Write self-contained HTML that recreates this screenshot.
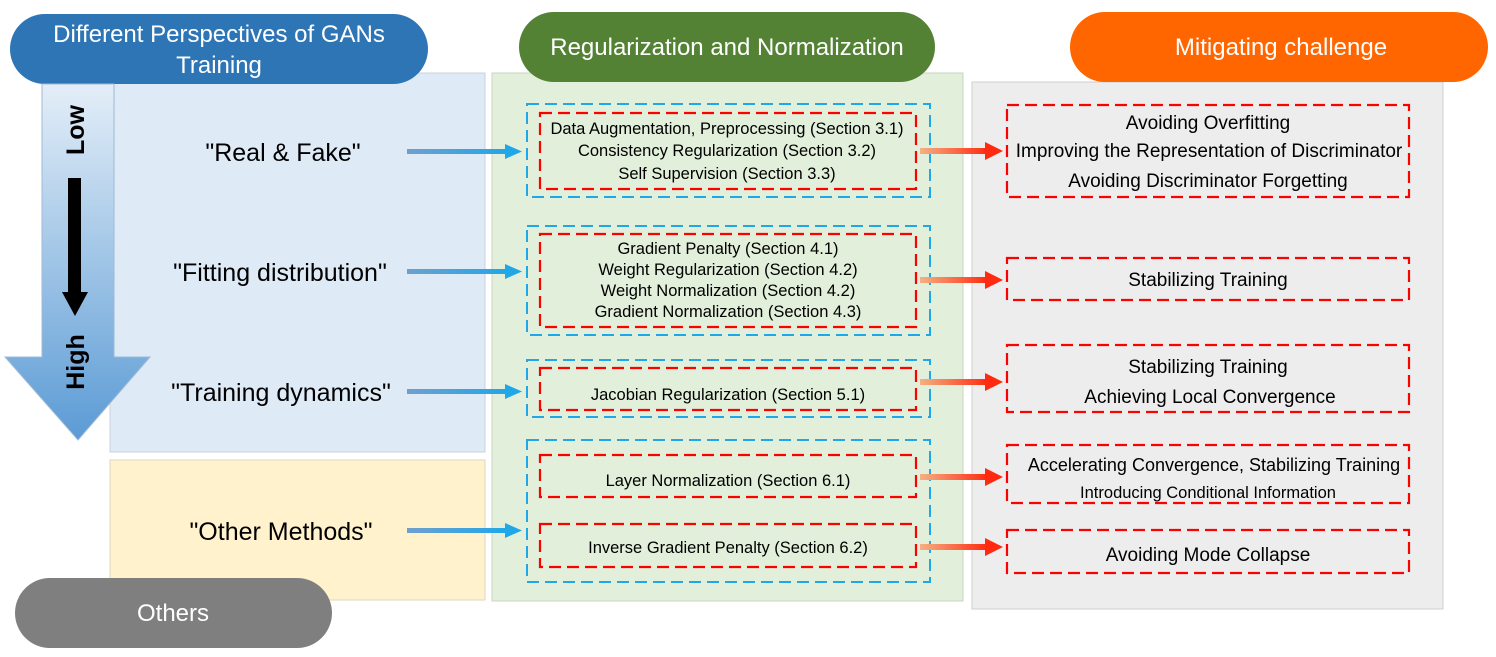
<!DOCTYPE html>
<html><head><meta charset="utf-8"><style>
html,body{margin:0;padding:0;background:#fff;}
svg{display:block;font-family:"Liberation Sans",Arial,sans-serif;}
</style></head><body>
<svg width="1496" height="657" viewBox="0 0 1496 657" xmlns="http://www.w3.org/2000/svg">
<defs>
<linearGradient id="bigarr" x1="0" y1="0" x2="0" y2="1">
<stop offset="0" stop-color="#E4EEF8"/><stop offset="1" stop-color="#5B9BD5"/>
</linearGradient>
<linearGradient id="barr" x1="0" y1="0" x2="1" y2="0">
<stop offset="0" stop-color="#6FA0CF"/><stop offset="1" stop-color="#1FA7E8"/>
</linearGradient>
<linearGradient id="oarr" x1="0" y1="0" x2="1" y2="0">
<stop offset="0" stop-color="#F4B183"/><stop offset="1" stop-color="#FF2A10"/>
</linearGradient>
</defs>
<rect x="110" y="73" width="375" height="379" fill="#DEEAF6" stroke="#C9D3DD"/>
<rect x="110" y="460" width="375" height="140" fill="#FFF2CC" stroke="#DDD6C0"/>
<rect x="492" y="73" width="471" height="528" fill="#E2EFDA" stroke="#C9D6C2"/>
<rect x="972" y="82" width="471" height="527" fill="#EDEDED" stroke="#CFCFCF"/>
<rect x="10" y="14" width="418" height="70" rx="35" fill="#2E75B6"/>
<text x="219" y="42" font-size="24" fill="#fff" text-anchor="middle">Different Perspectives of GANs</text>
<text x="219" y="73" font-size="24" fill="#fff" text-anchor="middle">Training</text>
<rect x="519" y="12" width="416" height="70" rx="35" fill="#548235"/>
<text x="727" y="55" font-size="24" fill="#fff" text-anchor="middle">Regularization and Normalization</text>
<rect x="1070" y="12" width="418" height="70" rx="35" fill="#FF6600"/>
<text x="1281" y="55" font-size="24" fill="#fff" text-anchor="middle">Mitigating challenge</text>
<rect x="15" y="578" width="317" height="70" rx="35" fill="#7F7F7F"/>
<text x="173" y="621" font-size="24" fill="#fff" text-anchor="middle">Others</text>
<path d="M42,84 H114 V357 H150 L78,440 L5,357 H42 Z" fill="url(#bigarr)" stroke="#9FBAD6"/>
<rect x="68" y="178" width="13" height="115" fill="#000"/>
<path d="M62,292 H88 L75,316 Z" fill="#000"/>
<text transform="translate(84,130) rotate(-90)" font-size="25" font-weight="bold" text-anchor="middle">Low</text>
<text transform="translate(84,362) rotate(-90)" font-size="25" font-weight="bold" text-anchor="middle">High</text>
<g font-size="25" text-anchor="middle" fill="#000">
<text x="283" y="161">"Real &amp; Fake"</text>
<text x="280" y="281">"Fitting distribution"</text>
<text x="281" y="401">"Training dynamics"</text>
<text x="281" y="540">"Other Methods"</text>
</g>
<g fill="url(#barr)">
<rect x="407" y="149" width="100" height="5"/><path d="M505,144 L522,151.5 L505,159 Z" fill="#1FA7E8"/>
<rect x="407" y="269" width="100" height="5"/><path d="M505,264 L522,271.5 L505,279 Z" fill="#1FA7E8"/>
<rect x="407" y="389" width="100" height="5"/><path d="M505,384 L522,391.5 L505,399 Z" fill="#1FA7E8"/>
<rect x="407" y="528" width="100" height="5"/><path d="M505,523 L522,530.5 L505,538 Z" fill="#1FA7E8"/>
</g>
<g fill="none" stroke="#1FA7E8" stroke-width="2" stroke-dasharray="12,6">
<rect x="527" y="104" width="403" height="93"/>
<rect x="527" y="226" width="403" height="109"/>
<rect x="527" y="360" width="403" height="57"/>
<rect x="527" y="440" width="403" height="142"/>
</g>
<g fill="none" stroke="#FF0000" stroke-width="2.2" stroke-dasharray="12,6">
<rect x="540" y="113" width="376" height="76"/>
<rect x="540" y="234" width="376" height="93"/>
<rect x="540" y="368" width="376" height="42"/>
<rect x="540" y="455" width="376" height="42"/>
<rect x="540" y="524" width="376" height="43"/>
<rect x="1007" y="105" width="402" height="92"/>
<rect x="1007" y="258" width="402" height="42"/>
<rect x="1007" y="345" width="402" height="67"/>
<rect x="1007" y="445" width="402" height="58"/>
<rect x="1007" y="530" width="402" height="43"/>
</g>
<g font-size="16.5" text-anchor="middle" fill="#000">
<text x="727" y="134">Data Augmentation, Preprocessing (Section 3.1)</text>
<text x="727" y="156">Consistency Regularization (Section 3.2)</text>
<text x="727" y="179">Self Supervision (Section 3.3)</text>
<text x="728" y="254">Gradient Penalty (Section 4.1)</text>
<text x="728" y="275">Weight Regularization (Section 4.2)</text>
<text x="728" y="296">Weight Normalization (Section 4.2)</text>
<text x="728" y="317">Gradient Normalization (Section 4.3)</text>
<text x="728" y="400">Jacobian Regularization (Section 5.1)</text>
<text x="728" y="486">Layer Normalization (Section 6.1)</text>
<text x="728" y="553">Inverse Gradient Penalty (Section 6.2)</text>
</g>
<g font-size="19" text-anchor="middle" fill="#000">
<text x="1208" y="129">Avoiding Overfitting</text>
<text x="1209" y="157">Improving the Representation of Discriminator</text>
<text x="1208" y="187">Avoiding Discriminator Forgetting</text>
<text x="1208" y="286">Stabilizing Training</text>
<text x="1208" y="373">Stabilizing Training</text>
<text x="1210" y="403">Achieving Local Convergence</text>
<text x="1214" y="471" font-size="18">Accelerating Convergence, Stabilizing Training</text>
<text x="1208" y="498" font-size="16.5">Introducing Conditional Information</text>
<text x="1208" y="561">Avoiding Mode Collapse</text>
</g>
<g fill="url(#oarr)">
<rect x="920" y="148" width="68" height="6"/><path d="M985,142 L1003,151 L985,160 Z" fill="#FF2A10"/>
<rect x="920" y="277" width="68" height="6"/><path d="M985,271 L1003,280 L985,289 Z" fill="#FF2A10"/>
<rect x="920" y="379" width="68" height="6"/><path d="M985,373 L1003,382 L985,391 Z" fill="#FF2A10"/>
<rect x="920" y="474" width="68" height="6"/><path d="M985,468 L1003,477 L985,486 Z" fill="#FF2A10"/>
<rect x="920" y="544" width="68" height="6"/><path d="M985,538 L1003,547 L985,556 Z" fill="#FF2A10"/>
</g>
</svg>
</body></html>
